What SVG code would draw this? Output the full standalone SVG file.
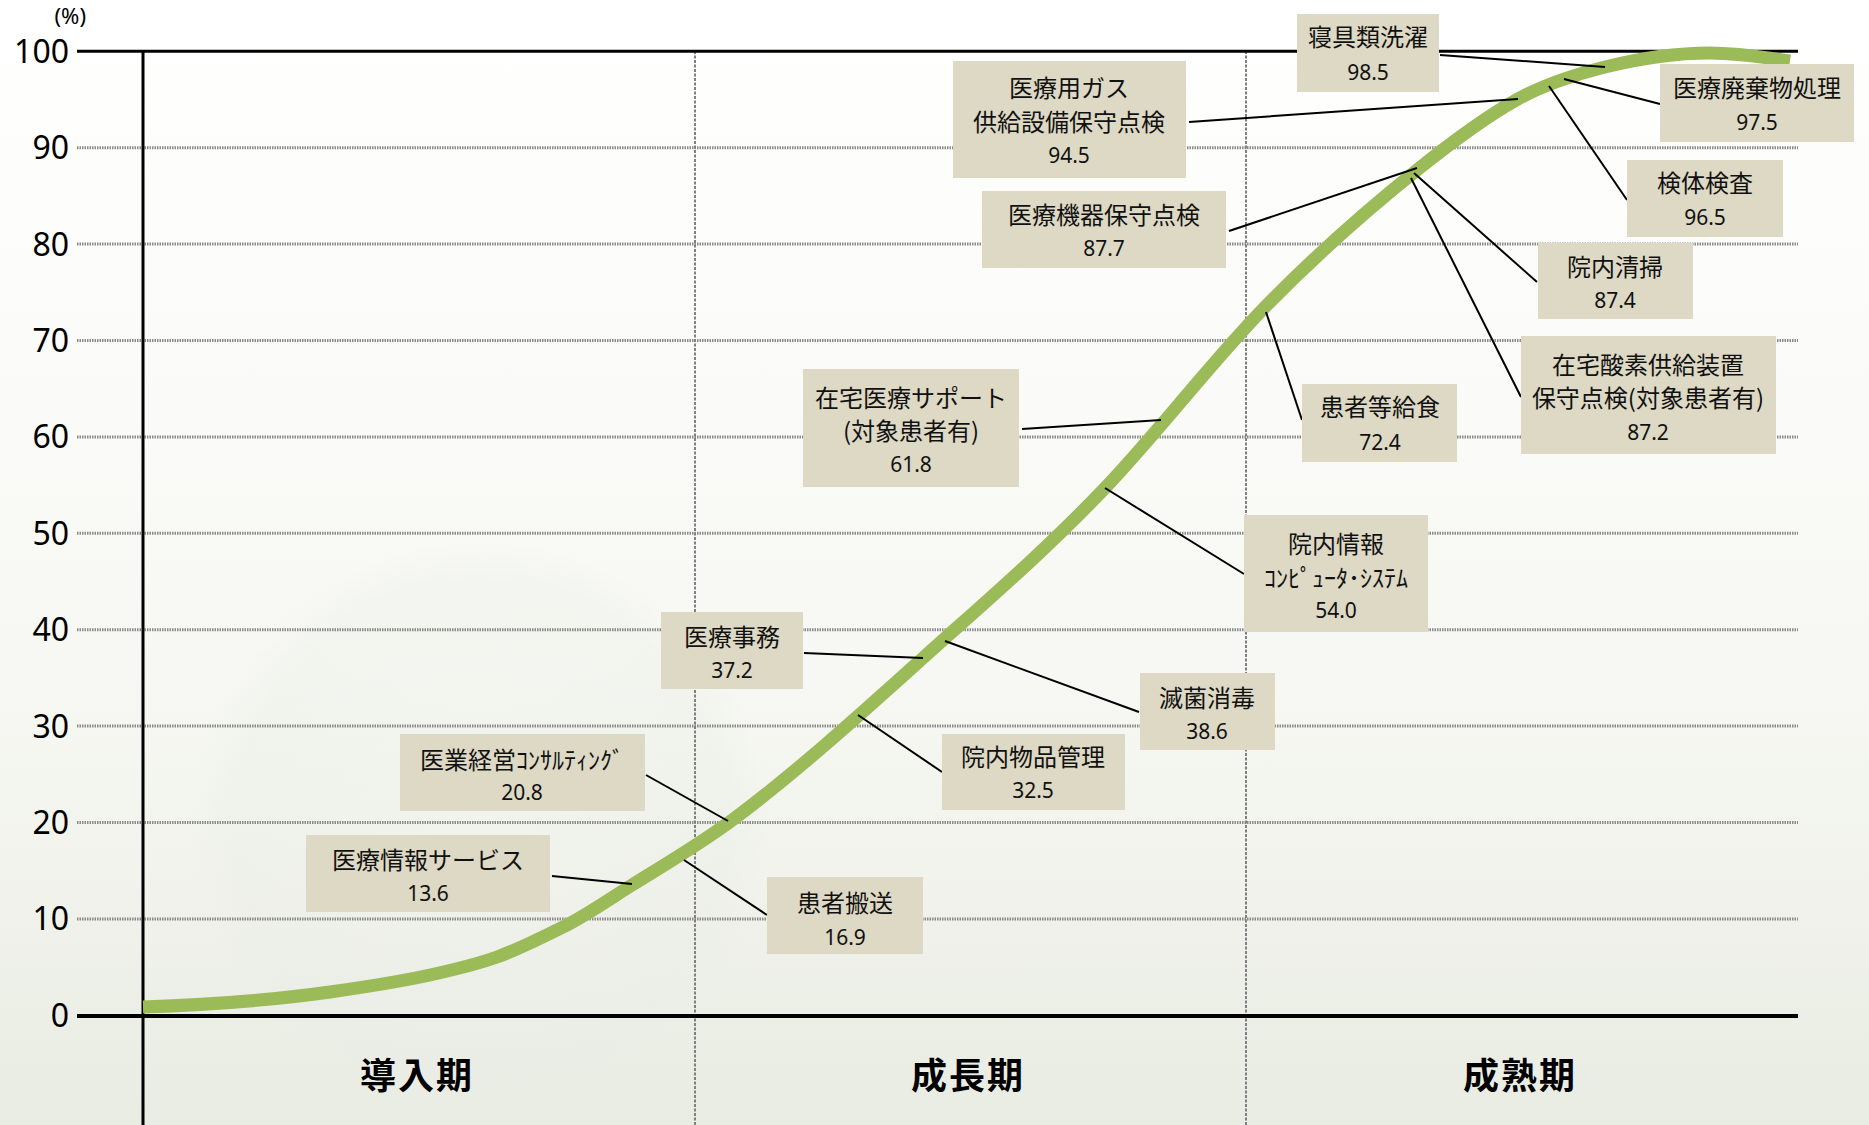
<svg xmlns="http://www.w3.org/2000/svg" width="1869" height="1125" viewBox="0 0 1869 1125">
<style>
.ylab{font-family:"Noto Sans","Liberation Sans",sans-serif;font-size:32px;fill:#000;text-anchor:end}
.grid{stroke:#8a8a8a;stroke-width:3;stroke-dasharray:1.5 1;fill:none}
.vgrid{stroke:#808080;stroke-width:2;stroke-dasharray:3 1.5;fill:none}
.axis{stroke:#000;fill:none}
.box{fill:#DDD9C4}
.jp{font-family:"Noto Sans CJK JP","Noto Sans",sans-serif;font-size:24px;fill:#111;text-anchor:middle}
.num{font-family:"Noto Sans","Liberation Sans",sans-serif;font-size:21px;fill:#111;text-anchor:middle}
.phase{font-family:"Noto Sans CJK JP",sans-serif;font-size:36px;font-weight:bold;fill:#000;text-anchor:middle;letter-spacing:2px}
.lead{stroke:#000;stroke-width:2;fill:none}
</style>
<defs>
<linearGradient id="bg" x1="0" y1="0" x2="0" y2="1">
<stop offset="0" stop-color="#ffffff"/>
<stop offset="0.6" stop-color="#f7f8f3"/>
<stop offset="1" stop-color="#e9ece3"/>
</linearGradient>
<radialGradient id="globe" cx="0.5" cy="0.5" r="0.5">
<stop offset="0" stop-color="#f0f2ec" stop-opacity="0.4"/>
<stop offset="0.85" stop-color="#e9ece5" stop-opacity="0.35"/>
<stop offset="1" stop-color="#e9ece5" stop-opacity="0"/>
</radialGradient>
</defs>
<rect width="1869" height="1125" fill="url(#bg)"/>
<circle cx="480" cy="830" r="290" fill="url(#globe)"/>

<g id="grid">
<line class="grid" x1="77" y1="147.7" x2="1798" y2="147.7"/>
<line class="grid" x1="77" y1="244.1" x2="1798" y2="244.1"/>
<line class="grid" x1="77" y1="340.5" x2="1798" y2="340.5"/>
<line class="grid" x1="77" y1="436.9" x2="1798" y2="436.9"/>
<line class="grid" x1="77" y1="533.3" x2="1798" y2="533.3"/>
<line class="grid" x1="77" y1="629.7" x2="1798" y2="629.7"/>
<line class="grid" x1="77" y1="726.1" x2="1798" y2="726.1"/>
<line class="grid" x1="77" y1="822.5" x2="1798" y2="822.5"/>
<line class="grid" x1="77" y1="918.9" x2="1798" y2="918.9"/>
<line class="vgrid" x1="695" y1="51" x2="695" y2="1125"/>
<line class="vgrid" x1="1246" y1="51" x2="1246" y2="1125"/>
</g>
<g id="axes">
<line class="axis" stroke-width="3" x1="77" y1="51.3" x2="1798" y2="51.3"/>
<line class="axis" stroke-width="4" x1="77" y1="1016" x2="1798" y2="1016"/>
<line class="axis" stroke-width="3" x1="143" y1="50" x2="143" y2="1125"/>
</g>
<g id="ylabels">
<text x="86" y="24" font-family="Noto Sans, Liberation Sans, sans-serif" font-size="22" text-anchor="end">(%)</text>
<text class="ylab" x="69" y="63">100</text>
<text class="ylab" x="69" y="159">90</text>
<text class="ylab" x="69" y="256">80</text>
<text class="ylab" x="69" y="352">70</text>
<text class="ylab" x="69" y="448">60</text>
<text class="ylab" x="69" y="545">50</text>
<text class="ylab" x="69" y="641">40</text>
<text class="ylab" x="69" y="738">30</text>
<text class="ylab" x="69" y="834">20</text>
<text class="ylab" x="69" y="930">10</text>
<text class="ylab" x="69" y="1027">0</text>
</g>
<g id="phases">
<text class="phase" x="417" y="1089">導入期</text>
<text class="phase" x="968" y="1089">成長期</text>
<text class="phase" x="1520" y="1089">成熟期</text>
</g>
<g id="curve">
<path d="M143,1007 C205.3,1005.1 267.7,1000.7 330,992 C363.3,987.3 396.7,982.3 430,975 C452.3,970.1 474.7,965 497,957 C519,949.1 541,938 563,927 C586,915.5 609,899.3 632,885 C666.3,863.7 700.7,843.7 735,818 C797.7,771 860.3,714.4 923,658 C983.7,603.4 1044.3,551.7 1105,488 C1158.7,431.6 1212.3,360.8 1266,306 C1316.3,254.7 1366.7,210.2 1417,170 C1450.7,143 1484.3,117.5 1518,99 C1547,83 1576,74.3 1605,67 C1640,58.3 1675,53 1710,53 C1736.7,53 1763.3,57 1790,61" fill="none" stroke="#9BBB59" stroke-width="13"/>
</g>
<g id="connectors">
<line class="lead" x1="1440" y1="55" x2="1605" y2="67"/>
<line class="lead" x1="1189" y1="122" x2="1518" y2="99"/>
<line class="lead" x1="1660" y1="104" x2="1564" y2="79"/>
<line class="lead" x1="1627" y1="200" x2="1549" y2="86"/>
<line class="lead" x1="1229" y1="231" x2="1417" y2="168"/>
<line class="lead" x1="1537" y1="282" x2="1414" y2="173"/>
<line class="lead" x1="1521" y1="397" x2="1411" y2="178"/>
<line class="lead" x1="1302" y1="420" x2="1266" y2="312"/>
<line class="lead" x1="1022" y1="429" x2="1161" y2="420"/>
<line class="lead" x1="1244" y1="574" x2="1105" y2="488"/>
<line class="lead" x1="1139" y1="712" x2="945" y2="641"/>
<line class="lead" x1="804" y1="653" x2="923" y2="658"/>
<line class="lead" x1="942" y1="772" x2="858" y2="715"/>
<line class="lead" x1="646" y1="775" x2="728" y2="821"/>
<line class="lead" x1="552" y1="876" x2="632" y2="884"/>
<line class="lead" x1="767" y1="915" x2="684" y2="860"/>
</g>
<g id="n-shingu">
<rect class="box" x="1297" y="14" width="142" height="78"/>
<text class="jp" x="1368" y="46">寝具類洗濯</text>
<text class="num" x="1368" y="80">98.5</text>
</g>
<g id="n-gas">
<rect class="box" x="953" y="61" width="233" height="117"/>
<text class="jp" x="1069" y="97">医療用ガス</text>
<text class="jp" x="1069" y="131">供給設備保守点検</text>
<text class="num" x="1069" y="163">94.5</text>
</g>
<g id="n-haikibutsu">
<rect class="box" x="1660" y="64" width="194" height="78"/>
<text class="jp" x="1757" y="97">医療廃棄物処理</text>
<text class="num" x="1757" y="130">97.5</text>
</g>
<g id="n-kiki">
<rect class="box" x="982" y="191" width="244" height="77"/>
<text class="jp" x="1104" y="224">医療機器保守点検</text>
<text class="num" x="1104" y="256">87.7</text>
</g>
<g id="n-kentai">
<rect class="box" x="1627" y="160" width="156" height="77"/>
<text class="jp" x="1705" y="192">検体検査</text>
<text class="num" x="1705" y="225">96.5</text>
</g>
<g id="n-seisou">
<rect class="box" x="1538" y="243" width="155" height="76"/>
<text class="jp" x="1615" y="276">院内清掃</text>
<text class="num" x="1615" y="308">87.4</text>
</g>
<g id="n-sanso">
<rect class="box" x="1521" y="336" width="255" height="118"/>
<text class="jp" x="1648" y="374">在宅酸素供給装置</text>
<text class="jp" x="1648" y="407">保守点検(対象患者有)</text>
<text class="num" x="1648" y="440">87.2</text>
</g>
<g id="n-kyushoku">
<rect class="box" x="1302" y="384" width="155" height="78"/>
<text class="jp" x="1380" y="416">患者等給食</text>
<text class="num" x="1380" y="450">72.4</text>
</g>
<g id="n-zaitaku">
<rect class="box" x="803" y="369" width="216" height="118"/>
<text class="jp" x="911" y="407">在宅医療サポート</text>
<text class="jp" x="911" y="440">(対象患者有)</text>
<text class="num" x="911" y="472">61.8</text>
</g>
<g id="n-joho">
<rect class="box" x="1244" y="515" width="184" height="117"/>
<text class="jp" x="1336" y="553">院内情報</text>
<text class="jp" x="1336" y="587" font-size="26">ｺﾝﾋﾟｭｰﾀ･ｼｽﾃﾑ</text>
<text class="num" x="1336" y="618">54.0</text>
</g>
<g id="n-mekkin">
<rect class="box" x="1140" y="673" width="135" height="77"/>
<text class="jp" x="1207" y="707">滅菌消毒</text>
<text class="num" x="1207" y="739">38.6</text>
</g>
<g id="n-jimu">
<rect class="box" x="661" y="612" width="142" height="77"/>
<text class="jp" x="732" y="646">医療事務</text>
<text class="num" x="732" y="678">37.2</text>
</g>
<g id="n-buppin">
<rect class="box" x="942" y="734" width="183" height="76"/>
<text class="jp" x="1033" y="766">院内物品管理</text>
<text class="num" x="1033" y="798">32.5</text>
</g>
<g id="n-keiei">
<rect class="box" x="400" y="734" width="245" height="77"/>
<text class="jp" x="522" y="769">医業経営ｺﾝｻﾙﾃｨﾝｸﾞ</text>
<text class="num" x="522" y="800">20.8</text>
</g>
<g id="n-johoservice">
<rect class="box" x="306" y="835" width="244" height="77"/>
<text class="jp" x="428" y="869">医療情報サービス</text>
<text class="num" x="428" y="901">13.6</text>
</g>
<g id="n-hanso">
<rect class="box" x="767" y="877" width="156" height="77"/>
<text class="jp" x="845" y="912">患者搬送</text>
<text class="num" x="845" y="945">16.9</text>
</g>
</svg>
